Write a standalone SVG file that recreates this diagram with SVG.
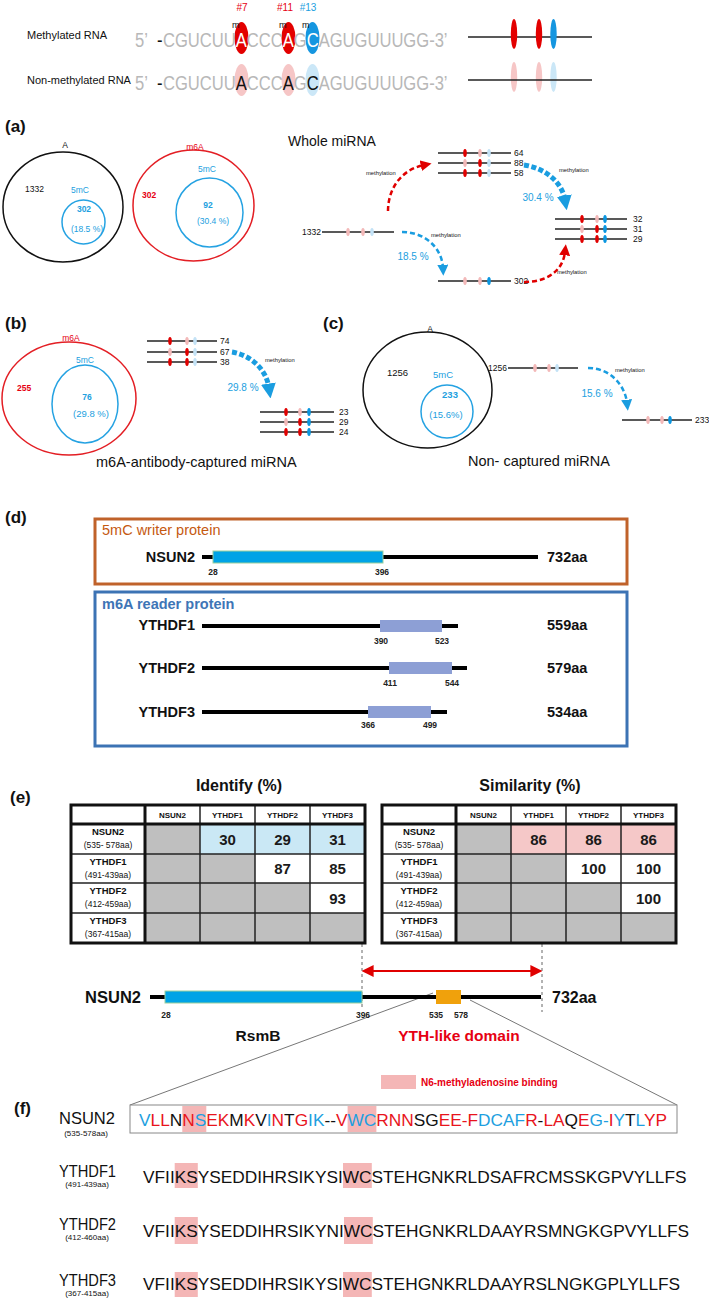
<svg xmlns="http://www.w3.org/2000/svg" width="709" height="1299" viewBox="0 0 709 1299">
<style>
text{font-family:"Liberation Sans",Arial,sans-serif;}
.b{font-weight:bold}
.red{fill:#e60012}
.blu{fill:#22a0e0}
.blk{fill:#111}
.gry{fill:#b8b8b8}
.ln{stroke:#222;stroke-width:1.5}
.mr{fill:#e00000}.mp{fill:#f3b9b9}.mb{fill:#0a96e0}.ml{fill:#c3e2f6}
.vb{fill:none;stroke:#111;stroke-width:1.5}
.vr{fill:none;stroke:#e31e24;stroke-width:1.5}
.vc{fill:none;stroke:#25a2e2;stroke-width:1.5}
.vt{font-size:8.5px}
.lab{font-size:8.5px;fill:#111}
.meth{font-size:5.8px;fill:#111}
.pl{font-size:17px;font-weight:bold;fill:#111}
.dr{fill:none;stroke:#e00000;stroke-width:2.5;stroke-dasharray:5 3}
.dbt{fill:none;stroke:#1a9de0;stroke-width:2.5;stroke-dasharray:5 3}
.dbk{fill:none;stroke:#1a9de0;stroke-width:5;stroke-dasharray:5 2.5}
.pline{stroke:#000;stroke-width:4}
.pname{font-size:14.5px;font-weight:bold;fill:#111}
.aa{font-size:8.5px;font-weight:bold;fill:#222;text-anchor:middle}
.yth{fill:#8d9fd5}
.grid{stroke:#222;stroke-width:1.5}
.gridk{stroke:#111;stroke-width:3;fill:none}
.th{font-size:8px;font-weight:bold;text-anchor:middle;fill:#111}
.rn{font-size:9.5px;font-weight:bold;text-anchor:middle;fill:#111}
.rs{font-size:8.5px;text-anchor:middle;fill:#111}
.val{font-size:15px;font-weight:bold;text-anchor:middle;fill:#1a1a1a}
.cg{fill:#bfbfbf}.cbl{fill:#cae8f5}.cpk{fill:#f5c8c8}
.hl{fill:#f4b6b6}
.seq{font-size:17.3px;fill:#111}
.cb{fill:#1e9fe0}.cr{fill:#e8141c}.ck{fill:#111}
.sq{font-size:21px;fill:#b8b8b8}
</style>
<defs>
<ellipse id="mk" cx="0" cy="0" rx="1.8" ry="4"/>
<marker id="ahR" viewBox="0 0 10 10" refX="3" refY="5" markerWidth="11" markerHeight="11" markerUnits="userSpaceOnUse" orient="auto"><path d="M0,0 L10,5 L0,10 z" fill="#e00000"/></marker>
<marker id="ahB" viewBox="0 0 10 10" refX="3" refY="5" markerWidth="11" markerHeight="11" markerUnits="userSpaceOnUse" orient="auto"><path d="M0,0 L10,5 L0,10 z" fill="#1a9de0"/></marker>
<marker id="ahBL" viewBox="0 0 10 10" refX="3" refY="5" markerWidth="15" markerHeight="15" markerUnits="userSpaceOnUse" orient="auto"><path d="M0,0 L10,5 L0,10 z" fill="#1a9de0"/></marker>
<marker id="ahD" viewBox="0 0 10 10" refX="8" refY="5" markerWidth="12" markerHeight="12" markerUnits="userSpaceOnUse" orient="auto-start-reverse"><path d="M0,0 L10,5 L0,10 z" fill="#e00000"/></marker>
</defs>
<rect width="709" height="1299" fill="#fff"/>

<!-- top: sequences -->
<g id="methylated-rna">
<text x="242" y="11" font-size="10" class="red" text-anchor="middle">#7</text>
<text x="285" y="11" font-size="10" class="red" text-anchor="middle">#11</text>
<text x="308" y="11" font-size="10" class="blu" text-anchor="middle">#13</text>
<text x="27" y="39" font-size="11" class="blk">Methylated RNA</text>
<ellipse cx="241.5" cy="38" rx="7" ry="16" fill="#e30000"/>
<ellipse cx="288.5" cy="38" rx="7" ry="16" fill="#e30000"/>
<ellipse cx="312.5" cy="38" rx="7" ry="16" fill="#1596e0"/>
<text x="232" y="28" font-size="9" class="blk">m</text>
<text x="279" y="28" font-size="9" class="blk">m</text>
<text x="302" y="28" font-size="9" class="blk">m</text>
<text class="sq" transform="matrix(0.79 0 0 1 135 47)"><tspan x="0">5’</tspan><tspan x="27.8" fill="#111">-</tspan><tspan x="35.4">CGUCUU</tspan><tspan fill="#fff">A</tspan><tspan>CCC</tspan><tspan fill="#fff">A</tspan><tspan>G</tspan><tspan fill="#fff">C</tspan><tspan>AGUGUUUGG-3’</tspan></text>
</g>
<g id="methylated-glyph">
<line x1="468" y1="37" x2="592" y2="37" class="ln"/>
<ellipse cx="514" cy="34" rx="3.2" ry="15" fill="#e30000"/>
<ellipse cx="539" cy="34" rx="3.2" ry="15" fill="#e30000"/>
<ellipse cx="553.5" cy="34" rx="3.2" ry="15" fill="#1596e0"/>
</g>
<g id="non-methylated-rna">
<text x="27" y="84" font-size="11" class="blk">Non-methylated RNA</text>
<ellipse cx="241.5" cy="80" rx="7" ry="16" fill="#f6c6c6"/>
<ellipse cx="288.5" cy="80" rx="7" ry="16" fill="#f6c6c6"/>
<ellipse cx="312.5" cy="80" rx="7" ry="16" fill="#cbe7f7"/>
<text class="sq" transform="matrix(0.79 0 0 1 135 90)"><tspan x="0">5’</tspan><tspan x="27.8" fill="#111">-</tspan><tspan x="35.4">CGUCUU</tspan><tspan fill="#111">A</tspan><tspan>CCC</tspan><tspan fill="#111">A</tspan><tspan>G</tspan><tspan fill="#111">C</tspan><tspan>AGUGUUUGG-3’</tspan></text>
</g>
<g id="non-methylated-glyph">
<ellipse cx="514" cy="77" rx="3.2" ry="15" fill="#f6c6c6"/>
<ellipse cx="539" cy="77" rx="3.2" ry="15" fill="#f6c6c6"/>
<ellipse cx="553.5" cy="77" rx="3.2" ry="15" fill="#cbe7f7"/>
<line x1="468" y1="80" x2="592" y2="80" class="ln"/>
</g>

<!-- panel labels -->
<g id="panel-labels">
<text x="5" y="132" class="pl">(a)</text>
<text x="5" y="329" class="pl">(b)</text>
<text x="323" y="329" class="pl">(c)</text>
<text x="5" y="523" class="pl">(d)</text>
<text x="10" y="803" class="pl">(e)</text>
<text x="14" y="1114" class="pl">(f)</text>
</g>

<!-- (a) Venn -->
<g id="venn-a-all">
<ellipse cx="63" cy="207" rx="60" ry="55" class="vb"/>
<ellipse cx="83.5" cy="222" rx="21.5" ry="22" class="vc"/>
<text x="65" y="148" class="vt blk" text-anchor="middle">A</text>
<text x="25" y="192" class="vt blk">1332</text>
<text x="80" y="193" class="vt blu" text-anchor="middle">5mC</text>
<text x="84" y="212" class="vt blu b" text-anchor="middle">302</text>
<text x="87" y="232" class="vt blu" text-anchor="middle">(18.5 %)</text>
</g>
<g id="venn-a-m6a">
<ellipse cx="193.5" cy="205.5" rx="60.5" ry="55.5" class="vr"/>
<ellipse cx="209.5" cy="212.5" rx="33.5" ry="34.5" class="vc"/>
<text x="195" y="150" class="vt red" text-anchor="middle">m6A</text>
<text x="142" y="198" class="vt red b">302</text>
<text x="207" y="172" class="vt blu" text-anchor="middle">5mC</text>
<text x="208" y="208" class="vt blu b" text-anchor="middle">92</text>
<text x="213" y="224" class="vt blu" text-anchor="middle">(30.4 %)</text>
</g>
<text x="288" y="146" font-size="14" class="blk">Whole miRNA</text>

<g id="a-lines-top">
<line x1="438" y1="153" x2="511" y2="153" class="ln"/>
<line x1="438" y1="163" x2="511" y2="163" class="ln"/>
<line x1="438" y1="173" x2="511" y2="173" class="ln"/>
<use href="#mk" x="465" y="153" class="mr"/><use href="#mk" x="480" y="153" class="mp"/><use href="#mk" x="489" y="153" class="ml"/>
<use href="#mk" x="465" y="163" class="mp"/><use href="#mk" x="480" y="163" class="mr"/><use href="#mk" x="489" y="163" class="ml"/>
<use href="#mk" x="465" y="173" class="mr"/><use href="#mk" x="480" y="173" class="mr"/><use href="#mk" x="489" y="173" class="ml"/>
<text x="514" y="156" class="lab">64</text>
<text x="514" y="166" class="lab">88</text>
<text x="514" y="176" class="lab">58</text>
</g>
<g id="a-line-1332">
<line x1="322" y1="232" x2="394" y2="232" class="ln"/>
<use href="#mk" x="348" y="232" class="mp"/><use href="#mk" x="363" y="232" class="mp"/><use href="#mk" x="372" y="232" class="ml"/>
<text x="321" y="235" class="lab" text-anchor="end">1332</text>
</g>
<g id="a-line-302">
<line x1="438" y1="281" x2="511" y2="281" class="ln"/>
<use href="#mk" x="465" y="281" class="mp"/><use href="#mk" x="480" y="281" class="mp"/><use href="#mk" x="489" y="281" class="mb"/>
<text x="514" y="284" class="lab">302</text>
</g>
<g id="a-lines-right">
<line x1="555" y1="219" x2="627" y2="219" class="ln"/>
<line x1="555" y1="229" x2="627" y2="229" class="ln"/>
<line x1="555" y1="239" x2="627" y2="239" class="ln"/>
<use href="#mk" x="582" y="219" class="mr"/><use href="#mk" x="597" y="219" class="mp"/><use href="#mk" x="605" y="219" class="mb"/>
<use href="#mk" x="582" y="229" class="mp"/><use href="#mk" x="597" y="229" class="mr"/><use href="#mk" x="605" y="229" class="mb"/>
<use href="#mk" x="582" y="239" class="mr"/><use href="#mk" x="597" y="239" class="mr"/><use href="#mk" x="605" y="239" class="mb"/>
<text x="633" y="222" class="lab">32</text>
<text x="633" y="232" class="lab">31</text>
<text x="633" y="242" class="lab">29</text>
</g>

<!-- (b) -->
<g id="venn-b">
<ellipse cx="69" cy="398.5" rx="67" ry="56.5" class="vr"/>
<ellipse cx="85" cy="404" rx="33" ry="39" class="vc"/>
<text x="71" y="341" class="vt red" text-anchor="middle">m6A</text>
<text x="17" y="391" class="vt red b">255</text>
<text x="85" y="363" class="vt blu" text-anchor="middle">5mC</text>
<text x="87" y="400" class="vt blu b" text-anchor="middle">76</text>
<text x="91" y="417" font-size="9.5" class="blu" text-anchor="middle">(29.8 %)</text>
</g>
<g id="b-lines-left">
<line x1="147" y1="341" x2="217" y2="341" class="ln"/>
<line x1="147" y1="352" x2="217" y2="352" class="ln"/>
<line x1="147" y1="362" x2="217" y2="362" class="ln"/>
<use href="#mk" x="170" y="341" class="mr"/><use href="#mk" x="187" y="341" class="mp"/><use href="#mk" x="195" y="341" class="ml"/>
<use href="#mk" x="170" y="352" class="mp"/><use href="#mk" x="187" y="352" class="mr"/><use href="#mk" x="195" y="352" class="ml"/>
<use href="#mk" x="170" y="362" class="mr"/><use href="#mk" x="187" y="362" class="mr"/><use href="#mk" x="195" y="362" class="ml"/>
<text x="220" y="344" class="lab">74</text>
<text x="220" y="355" class="lab">67</text>
<text x="220" y="365" class="lab">38</text>
</g>
<g id="b-lines-right">
<line x1="260" y1="412" x2="334" y2="412" class="ln"/>
<line x1="260" y1="422" x2="334" y2="422" class="ln"/>
<line x1="260" y1="432" x2="334" y2="432" class="ln"/>
<use href="#mk" x="286" y="412" class="mr"/><use href="#mk" x="300" y="412" class="mp"/><use href="#mk" x="309" y="412" class="mb"/>
<use href="#mk" x="286" y="422" class="mp"/><use href="#mk" x="300" y="422" class="mr"/><use href="#mk" x="309" y="422" class="mb"/>
<use href="#mk" x="286" y="432" class="mr"/><use href="#mk" x="300" y="432" class="mr"/><use href="#mk" x="309" y="432" class="mb"/>
<text x="339" y="415" class="lab">23</text>
<text x="339" y="425" class="lab">29</text>
<text x="339" y="435" class="lab">24</text>
</g>
<text x="96" y="467" font-size="14.5" class="blk">m6A-antibody-captured miRNA</text>

<!-- (c) -->
<g id="venn-c">
<ellipse cx="427.5" cy="390" rx="64.5" ry="58" class="vb"/>
<ellipse cx="447" cy="411.5" rx="26" ry="26.5" class="vc"/>
<text x="430" y="332" class="vt blk" text-anchor="middle">A</text>
<text x="387" y="376" font-size="9.5" class="blk">1256</text>
<text x="443" y="378" font-size="9.5" class="blu" text-anchor="middle">5mC</text>
<text x="450" y="398" font-size="9.5" class="blu b" text-anchor="middle">233</text>
<text x="446" y="418" font-size="9.5" class="blu" text-anchor="middle">(15.6%)</text>
</g>
<g id="c-line-1256">
<line x1="508" y1="368" x2="578" y2="368" class="ln"/>
<use href="#mk" x="535" y="368" class="mp"/><use href="#mk" x="549" y="368" class="mp"/><use href="#mk" x="557" y="368" class="ml"/>
<text x="507" y="371" class="lab" text-anchor="end">1256</text>
</g>
<g id="c-line-233">
<line x1="622" y1="420" x2="692" y2="420" class="ln"/>
<use href="#mk" x="648" y="420" class="mp"/><use href="#mk" x="662" y="420" class="mp"/><use href="#mk" x="670" y="420" class="mb"/>
<text x="695" y="423" class="lab">233</text>
</g>
<text x="468" y="466" font-size="14.5" class="blk">Non- captured miRNA</text>

<!-- connectors -->
<g id="connectors">
<path d="M388 211 C388 190 400 170 424 165" class="dr" marker-end="url(#ahR)"/>
<text x="366" y="175" class="meth">methylation</text>
<path d="M402 232 C425 232 442 248 443 268" class="dbt" marker-end="url(#ahB)"/>
<text x="431" y="237" class="meth">methylation</text>
<text x="413" y="260" font-size="10" class="blu" text-anchor="middle">18.5 %</text>
<path d="M524 165 C545 168 562 182 565 200" class="dbk" marker-end="url(#ahBL)"/>
<text x="559" y="172" class="meth">methylation</text>
<text x="538" y="201" font-size="10" class="blu" text-anchor="middle">30.4 %</text>
<path d="M524 282 C548 282 563 270 565 252" class="dr" marker-end="url(#ahR)"/>
<text x="557" y="274" class="meth">methylation</text>
<path d="M232 352 C250 355 266 368 269 388" class="dbk" marker-end="url(#ahBL)"/>
<text x="265" y="362" class="meth">methylation</text>
<text x="243" y="391" font-size="10" class="blu" text-anchor="middle">29.8 %</text>
<path d="M588 368 C610 368 625 385 627 403" class="dbt" marker-end="url(#ahB)"/>
<text x="615" y="372" class="meth">methylation</text>
<text x="597" y="397" font-size="10" class="blu" text-anchor="middle">15.6 %</text>
<line x1="362" y1="938" x2="362" y2="1010" stroke="#666" stroke-width="1" stroke-dasharray="3 3"/>
<line x1="542" y1="938" x2="542" y2="1012" stroke="#666" stroke-width="1" stroke-dasharray="3 3"/>
<line x1="364" y1="971" x2="540" y2="971" stroke="#e00000" stroke-width="2" marker-start="url(#ahD)" marker-end="url(#ahD)"/>
<line x1="433" y1="993" x2="130" y2="1105" stroke="#777" stroke-width="1"/>
<line x1="470" y1="1000" x2="677" y2="1105" stroke="#777" stroke-width="1"/>
</g>

<!-- (d) -->
<g id="writer-box">
<rect x="95" y="519" width="532" height="65" fill="none" stroke="#c0622a" stroke-width="3"/>
<text x="102" y="535" font-size="14.5" fill="#c55a11">5mC writer protein</text>
</g>
<g id="nsun2-d">
<text x="195" y="562" class="pname" text-anchor="end">NSUN2</text>
<line x1="202" y1="557" x2="538" y2="557" class="pline"/>
<rect x="213" y="551" width="170" height="12" fill="#00a3e6" stroke="#9ccf9c" stroke-width="1"/>
<text x="213" y="575" class="aa">28</text>
<text x="382" y="575" class="aa">396</text>
<text x="547" y="562" class="pname">732aa</text>
</g>
<g id="reader-box">
<rect x="95" y="592" width="532" height="154" fill="none" stroke="#3c73b4" stroke-width="3"/>
<text x="102" y="609" font-size="14.5" font-weight="bold" fill="#3e75b6">m6A reader protein</text>
</g>
<g id="ythdf1-d">
<text x="195" y="630" class="pname" text-anchor="end">YTHDF1</text>
<line x1="202" y1="626" x2="458" y2="626" class="pline"/>
<rect x="380" y="620" width="62" height="12" class="yth"/>
<text x="381" y="644" class="aa">390</text>
<text x="442" y="644" class="aa">523</text>
<text x="547" y="630" class="pname">559aa</text>
</g>
<g id="ythdf2-d">
<text x="195" y="673" class="pname" text-anchor="end">YTHDF2</text>
<line x1="202" y1="668" x2="467" y2="668" class="pline"/>
<rect x="389" y="662" width="63" height="12" class="yth"/>
<text x="390" y="686" class="aa">411</text>
<text x="452" y="686" class="aa">544</text>
<text x="547" y="673" class="pname">579aa</text>
</g>
<g id="ythdf3-d">
<text x="195" y="717" class="pname" text-anchor="end">YTHDF3</text>
<line x1="202" y1="712" x2="447" y2="712" class="pline"/>
<rect x="368" y="706" width="63" height="12" class="yth"/>
<text x="368" y="728" class="aa">366</text>
<text x="430" y="728" class="aa">499</text>
<text x="547" y="717" class="pname">534aa</text>
</g>

<!-- (e) tables -->
<g id="identity-table">
<text x="239" y="791" font-size="16" font-weight="bold" fill="#111" text-anchor="middle">Identify (%)</text>
<rect x="71" y="805" width="294" height="138" fill="#fff"/>
<rect x="145" y="824" width="55" height="30" class="cg"/>
<rect x="200" y="824" width="165" height="30" class="cbl"/>
<rect x="145" y="854" width="110" height="29" class="cg"/>
<rect x="145" y="883" width="165" height="30" class="cg"/>
<rect x="145" y="913" width="220" height="30" class="cg"/>
<line x1="200" y1="805" x2="200" y2="943" class="grid"/>
<line x1="255" y1="805" x2="255" y2="943" class="grid"/>
<line x1="310" y1="805" x2="310" y2="943" class="grid"/>
<line x1="71" y1="854" x2="365" y2="854" class="grid"/>
<line x1="71" y1="883" x2="365" y2="883" class="grid"/>
<line x1="71" y1="913" x2="365" y2="913" class="grid"/>
<line x1="145" y1="805" x2="145" y2="943" class="gridk"/>
<line x1="71" y1="824" x2="365" y2="824" class="gridk"/>
<rect x="71" y="805" width="294" height="138" class="gridk"/>
<text x="172.5" y="818" class="th">NSUN2</text>
<text x="227.5" y="818" class="th">YTHDF1</text>
<text x="282.5" y="818" class="th">YTHDF2</text>
<text x="337.5" y="818" class="th">YTHDF3</text>
<text x="108" y="835" class="rn">NSUN2</text><text x="108" y="848" class="rs">(535- 578aa)</text>
<text x="108" y="865" class="rn">YTHDF1</text><text x="108" y="878" class="rs">(491-439aa)</text>
<text x="108" y="894" class="rn">YTHDF2</text><text x="108" y="907" class="rs">(412-459aa)</text>
<text x="108" y="924" class="rn">YTHDF3</text><text x="108" y="937" class="rs">(367-415aa)</text>
<text x="227.5" y="845" class="val">30</text>
<text x="282.5" y="845" class="val">29</text>
<text x="337.5" y="845" class="val">31</text>
<text x="282.5" y="874" class="val">87</text>
<text x="337.5" y="874" class="val">85</text>
<text x="337.5" y="904" class="val">93</text>
</g>
<g id="similarity-table">
<text x="530" y="791" font-size="16" font-weight="bold" fill="#111" text-anchor="middle">Similarity (%)</text>
<rect x="382" y="805" width="294" height="138" fill="#fff"/>
<rect x="456" y="824" width="55" height="30" class="cg"/>
<rect x="511" y="824" width="165" height="30" class="cpk"/>
<rect x="456" y="854" width="110" height="29" class="cg"/>
<rect x="456" y="883" width="165" height="30" class="cg"/>
<rect x="456" y="913" width="220" height="30" class="cg"/>
<line x1="511" y1="805" x2="511" y2="943" class="grid"/>
<line x1="566" y1="805" x2="566" y2="943" class="grid"/>
<line x1="621" y1="805" x2="621" y2="943" class="grid"/>
<line x1="382" y1="854" x2="676" y2="854" class="grid"/>
<line x1="382" y1="883" x2="676" y2="883" class="grid"/>
<line x1="382" y1="913" x2="676" y2="913" class="grid"/>
<line x1="456" y1="805" x2="456" y2="943" class="gridk"/>
<line x1="382" y1="824" x2="676" y2="824" class="gridk"/>
<rect x="382" y="805" width="294" height="138" class="gridk"/>
<text x="483.5" y="818" class="th">NSUN2</text>
<text x="538.5" y="818" class="th">YTHDF1</text>
<text x="593.5" y="818" class="th">YTHDF2</text>
<text x="648.5" y="818" class="th">YTHDF3</text>
<text x="419" y="835" class="rn">NSUN2</text><text x="419" y="848" class="rs">(535- 578aa)</text>
<text x="419" y="865" class="rn">YTHDF1</text><text x="419" y="878" class="rs">(491-439aa)</text>
<text x="419" y="894" class="rn">YTHDF2</text><text x="419" y="907" class="rs">(412-459aa)</text>
<text x="419" y="924" class="rn">YTHDF3</text><text x="419" y="937" class="rs">(367-415aa)</text>
<text x="538.5" y="845" class="val">86</text>
<text x="593.5" y="845" class="val">86</text>
<text x="648.5" y="845" class="val">86</text>
<text x="593.5" y="874" class="val">100</text>
<text x="648.5" y="874" class="val">100</text>
<text x="648.5" y="904" class="val">100</text>
</g>

<!-- NSUN2 domain bar -->
<g id="nsun2-e">
<text x="141" y="1003" font-size="16.5" font-weight="bold" fill="#111" text-anchor="end">NSUN2</text>
<line x1="150" y1="997" x2="541" y2="997" class="pline"/>
<rect x="165" y="991" width="197" height="12" fill="#00a3e6" stroke="#9ccf9c" stroke-width="1"/>
<rect x="436" y="990" width="25" height="14" fill="#f0a10c"/>
<text x="552" y="1003" font-size="16" font-weight="bold" fill="#111">732aa</text>
<text x="166" y="1018" class="aa">28</text>
<text x="363" y="1018" class="aa">396</text>
<text x="436" y="1018" class="aa">535</text>
<text x="461" y="1018" class="aa">578</text>
<text x="258" y="1041" font-size="15.5" font-weight="bold" fill="#111" text-anchor="middle">RsmB</text>
<text x="459" y="1041" font-size="15.5" font-weight="bold" fill="#e60012" text-anchor="middle">YTH-like domain</text>
</g>

<!-- (f) -->
<g id="legend">
<rect x="381" y="1075" width="35" height="14" class="hl"/>
<text x="421" y="1086" font-size="10" font-weight="bold" fill="#e60012">N6-methyladenosine binding</text>
</g>
<g id="nsun2-seq">
<text x="59" y="1124" font-size="16.5" fill="#111">NSUN2</text>
<text x="86" y="1136" font-size="8" fill="#111" text-anchor="middle">(535-578aa)</text>
<rect x="130" y="1105" width="547" height="28" fill="#fff" stroke="#888" stroke-width="1"/>
<rect x="182.3" y="1106" width="24" height="26" class="hl"/>
<rect x="347.6" y="1106" width="28.8" height="26" class="hl"/>
<text x="139" y="1126" class="seq"><tspan class="cb">V</tspan><tspan class="cr">LL</tspan><tspan class="ck">N</tspan><tspan class="cr">N</tspan><tspan class="cb">S</tspan><tspan class="cr">EK</tspan><tspan class="ck">M</tspan><tspan class="cr">K</tspan><tspan class="ck">V</tspan><tspan class="cb">I</tspan><tspan class="cr">N</tspan><tspan class="ck">T</tspan><tspan class="cr">G</tspan><tspan class="cb">IK</tspan><tspan class="ck">--</tspan><tspan class="cr">V</tspan><tspan class="cb">WC</tspan><tspan class="cr">RNN</tspan><tspan class="ck">SG</tspan><tspan class="cr">EE-F</tspan><tspan class="cb">DCAF</tspan><tspan class="cr">R</tspan><tspan class="ck">-</tspan><tspan class="cr">LA</tspan><tspan class="ck">Q</tspan><tspan class="cr">E</tspan><tspan class="cb">G-</tspan><tspan class="cr">I</tspan><tspan class="cb">Y</tspan><tspan class="ck">T</tspan><tspan class="cb">L</tspan><tspan class="cr">YP</tspan></text>
</g>
<g id="ythdf1-seq">
<text x="59" y="1177" font-size="16.5" fill="#111" textLength="57" lengthAdjust="spacingAndGlyphs">YTHDF1</text>
<text x="87" y="1187" font-size="8" fill="#111" text-anchor="middle">(491-439aa)</text>
<rect x="174.7" y="1163" width="23.1" height="25" class="hl"/>
<rect x="343" y="1163" width="28.8" height="25" class="hl"/>
<text x="143" y="1183" class="seq">VFIIKSYSEDDIHRSIKYSIWCSTEHGNKRLDSAFRCMSSKGPVYLLFS</text>
</g>
<g id="ythdf2-seq">
<text x="59" y="1230" font-size="16.5" fill="#111" textLength="57" lengthAdjust="spacingAndGlyphs">YTHDF2</text>
<text x="87" y="1240" font-size="8" fill="#111" text-anchor="middle">(412-460aa)</text>
<rect x="174.7" y="1217" width="23.1" height="27" class="hl"/>
<rect x="344" y="1217" width="28.8" height="27" class="hl"/>
<text x="143" y="1237" class="seq">VFIIKSYSEDDIHRSIKYNIWCSTEHGNKRLDAAYRSMNGKGPVYLLFS</text>
</g>
<g id="ythdf3-seq">
<text x="59" y="1286" font-size="16.5" fill="#111" textLength="57" lengthAdjust="spacingAndGlyphs">YTHDF3</text>
<text x="87" y="1296" font-size="8" fill="#111" text-anchor="middle">(367-415aa)</text>
<rect x="174.7" y="1272" width="23.1" height="25" class="hl"/>
<rect x="343" y="1272" width="28.8" height="25" class="hl"/>
<text x="143" y="1290" class="seq">VFIIKSYSEDDIHRSIKYSIWCSTEHGNKRLDAAYRSLNGKGPLYLLFS</text>
</g>
</svg>
